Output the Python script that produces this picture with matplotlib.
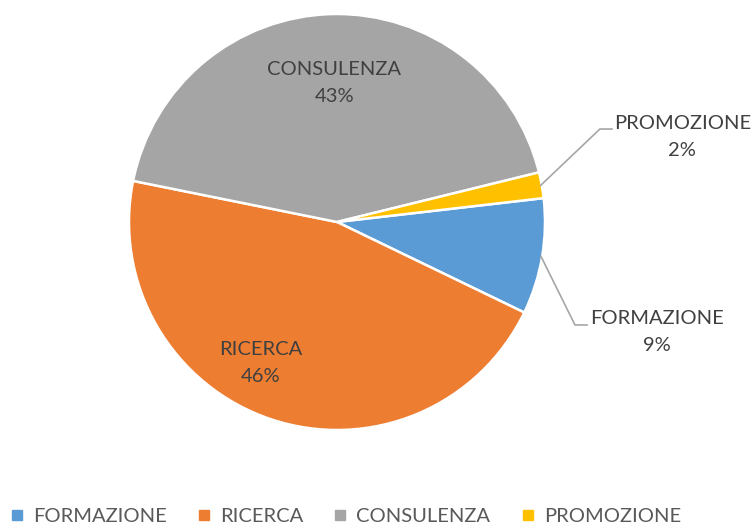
import numpy as np
import matplotlib
matplotlib.use('Agg')
import matplotlib.pyplot as plt
from matplotlib.lines import Line2D

# Data (Excel-style pie, clockwise from the right)
categories = ['FORMAZIONE', 'RICERCA', 'CONSULENZA', 'PROMOZIONE']
percentages = [9, 46, 43, 2]
colors = ['#5B9BD5', '#ED7D31', '#A5A5A5', '#FFC000']

plt.rcParams['font.family'] = ['Lato', 'DejaVu Sans']
label_color = '#404040'
legend_color = '#595959'

fig = plt.figure(figsize=(7.55, 5.25), dpi=100)
ax = fig.add_axes([129 / 755, 95 / 525, 416 / 755, 416 / 525])

wedges, _ = ax.pie(percentages, colors=colors, startangle=6.6, counterclock=False,
                   radius=1.0, wedgeprops=dict(edgecolor='white', linewidth=1.8))
ax.set_xlim(-1, 1)
ax.set_ylim(-1, 1)
ax.axis('off')

def mid_angle(w):
    return np.deg2rad((w.theta1 + w.theta2) / 2)

# inside labels
inside = {'RICERCA': (0.77, -10), 'CONSULENZA': (0.67, 0)}
for w, cat, pct in zip(wedges, categories, percentages):
    if cat in inside:
        r, off = inside[cat]
        a = mid_angle(w) + np.deg2rad(off)
        ax.text(r * np.cos(a), r * np.sin(a), f'{cat}\n{pct}%', ha='center', va='center',
                fontsize=14.5, color=label_color, linespacing=1.7)

# outside labels with leader lines
outside = {'PROMOZIONE': ((1.264, 0.447), (1.322, 0.447), (1.66, 0.41)),
           'FORMAZIONE': ((1.144, -0.495), (1.202, -0.495), (1.54, -0.53))}
for w, cat, pct in zip(wedges, categories, percentages):
    if cat in outside:
        elbow, end, txt = outside[cat]
        a = mid_angle(w)
        start = (0.995 * np.cos(a), 0.995 * np.sin(a))
        ax.plot([start[0], elbow[0], end[0]], [start[1], elbow[1], end[1]],
                color='#A6A6A6', lw=1.2, clip_on=False)
        ax.text(txt[0], txt[1], f'{cat}\n{pct}%', ha='center', va='center',
                fontsize=14.5, color=label_color, linespacing=1.7, clip_on=False)

handles = [Line2D([0], [0], marker='s', linestyle='none', markersize=6.5,
                  markerfacecolor=c, markeredgecolor=c) for c in colors]
fig.legend(handles, categories, loc='center', bbox_to_anchor=(0.458, 1 - 516 / 525),
           ncol=4, frameon=False, fontsize=14.5, labelcolor=legend_color,
           handlelength=0.6, handletextpad=0.5, columnspacing=1.55)

fig.savefig('out.png', dpi=100)
